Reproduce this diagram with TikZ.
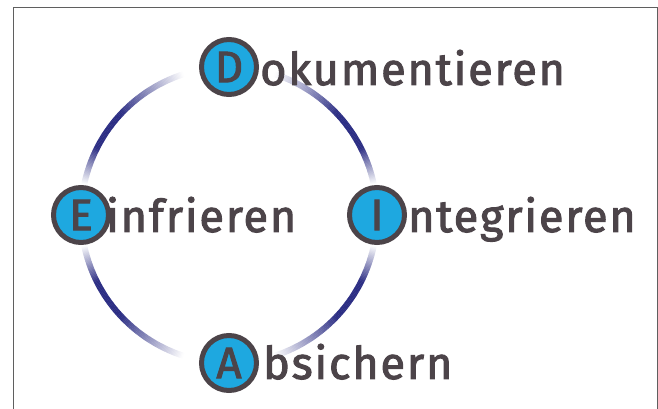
\documentclass[tikz,border=0pt]{standalone}
\usepackage{fontspec}
\setmainfont{Fira Sans}[LetterSpace=4, FakeBold=2.2]
\begin{document}
\begin{tikzpicture}[x=1pt,y=1pt]
  \definecolor{ringblue}{RGB}{44,46,132}
  \definecolor{capfill}{RGB}{30,168,224}
  \definecolor{inkgray}{RGB}{76,68,73}
  \definecolor{framegray}{RGB}{95,95,95}
  \tikzset{
    capital/.style={circle, draw=inkgray, line width=5pt, fill=capfill,
      minimum size=55pt, inner sep=0pt, text=inkgray,
      font=\fontsize{44}{44}\selectfont},
    word/.style={anchor=base west, inner sep=0pt, text=inkgray,
      font=\fontsize{45}{45}\selectfont},
    ringpiece/.style={line width=6pt, line cap=butt},
  }
  \useasboundingbox (0,0) rectangle (658,409);
  % open frame (no bottom edge)
  \draw[framegray, line width=1pt] (13.5,-5) -- (13.5,401.5) -- (657.5,401.5) -- (657.5,-5);

  \coordinate (hub) at (229,194);

  % four fading ring segments, dark near the side stations
  \foreach \base/\dir in {180/-1, 180/1, 0/1, 0/-1}{
    \foreach \d in {12,12.5,...,71.5}{
      \pgfmathsetmacro\m{\d+0.25}
      \pgfmathsetmacro\t{\m<27 ? (\m-12)/15 : (\m<43 ? 1 : (72-\m)/29)}
      \pgfmathsetmacro\pct{100*\t}
      \pgfmathsetmacro\a{\base+\dir*\d}
      \pgfmathsetmacro\da{\dir*0.6}
      \draw[ringpiece, color=ringblue!\pct!white]
        ([shift={(\a:148)}]hub) arc[start angle=\a, delta angle=\da, radius=148];
    }
  }

  % stations
  \node[capital] (D) at ([shift={(90:148)}]hub) {D};
  \node[capital] (E) at ([shift={(180:148)}]hub) {E};
  \node[capital] (I) at ([shift={(0:148)}]hub) {I};
  \node[capital] (A) at ([shift={(270:148)}]hub) {A};

  \node[word] (Dw) at ([shift={(31,-18)}]D.center) {okumentieren};
  \node[word] (Ew) at ([shift={(25,-17)}]E.center) {infrieren};
  \node[word] (Iw) at ([shift={(31,-17)}]I.center) {ntegrieren};
  \node[word] (Aw) at ([shift={(34,-16)}]A.center) {bsichern};
\end{tikzpicture}
\end{document}
